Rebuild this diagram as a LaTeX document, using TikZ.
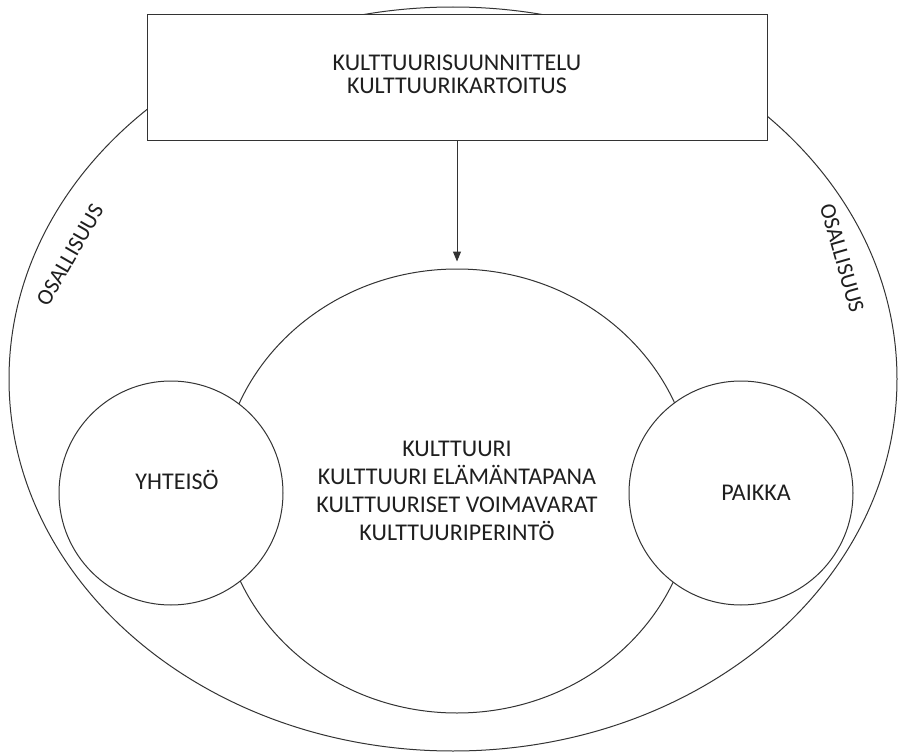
\documentclass[tikz,border=0pt]{standalone}
\usepackage{fontspec}
\setmainfont{Carlito}
\usetikzlibrary{shapes.geometric,arrows.meta}
\begin{document}
\begin{tikzpicture}[x=1pt,y=-1pt,
  thinline/.style={draw=black!80,line width=1pt},
  lbl/.style={font=\fontsize{24}{28}\selectfont,text=black!88,align=center,inner sep=0pt},
  rimlbl/.style={font=\fontsize{22.5}{26}\selectfont,text=black!88,inner sep=0pt},
]
\useasboundingbox (0,0) rectangle (898,752);
\fill[white] (0,0) rectangle (898,752);
% outer ellipse
\node[ellipse,thinline,minimum width=888pt,minimum height=744pt,inner sep=0pt] (outer) at (453,379) {};
% planning box
\node[thinline,fill=white,minimum width=620pt,minimum height=125pt,inner sep=0pt] (plan) at (457,77.5) {};
\node[font=\fontsize{24}{23}\selectfont,text=black!88,align=center,inner sep=0pt] (plantxt)
      at ([yshift=3pt]plan.center) {KULTTUURISUUNNITTELU\\KULTTUURIKARTOITUS};
% central culture ellipse
\node[ellipse,thinline,minimum width=474pt,minimum height=444pt,inner sep=0pt] (big) at (457,491) {};
\node[lbl] (bigtxt) at (big.center) {KULTTUURI\\KULTTUURI ELÄMÄNTAPANA\\KULTTUURISET VOIMAVARAT\\KULTTUURIPERINTÖ};
% side circles
\node[circle,thinline,fill=white,minimum size=224pt,inner sep=0pt] (yht) at (171,493) {};
\node[lbl] (yhttxt) at ([shift={(6,-13)}]yht.center) {YHTEISÖ};
\node[circle,thinline,fill=white,minimum size=224pt,inner sep=0pt] (paik) at (741,493) {};
\node[lbl] (paiktxt) at ([shift={(15,0)}]paik.center) {PAIKKA};
% arrow
\draw[thinline,-{Triangle[length=10pt,width=8pt]}] (plan.south) -- ([yshift=7pt]big.north);
% rim labels
\node[rimlbl,rotate=60] (osl) at (70,255) {OSALLISUUS};
\node[rimlbl,rotate=-74] (osr) at (842,258) {OSALLISUUS};
\end{tikzpicture}
\end{document}
